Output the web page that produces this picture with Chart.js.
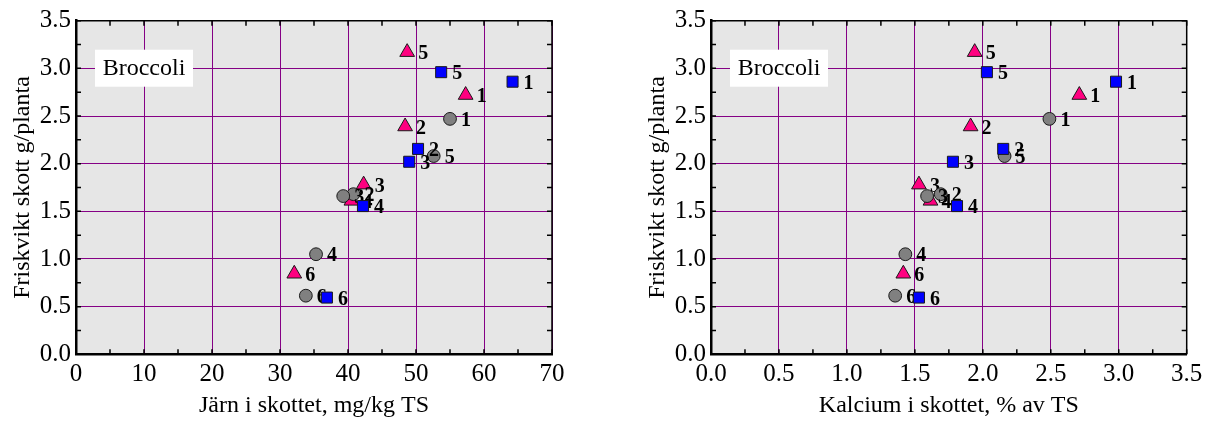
<!DOCTYPE html>
<html><head><meta charset="utf-8">
<script src="https://cdn.jsdelivr.net/npm/chart.js@4.4.1/dist/chart.umd.min.js"></script>
<style>
html,body{margin:0;padding:0;background:#fff;}
#wrap{position:relative;width:1212px;height:421px;overflow:hidden;}
canvas{position:absolute;top:0;}
</style></head><body>
<div id="wrap">
<canvas id="jarn" width="630" height="421" style="left:0"></canvas>
<canvas id="kalcium" width="577" height="421" style="left:635px"></canvas>
</div>
<script>
"use strict";

// behandlingar 1-6, samma ordning i alla listor
const behandling = ["1", "2", "3", "4", "5", "6"];

// friskvikt skott, g/planta
const viktTriangel = [2.72, 2.39, 1.78, 1.61, 3.17, 0.845];
const viktKvadrat  = [2.86, 2.155, 2.02, 1.555, 2.96, 0.595];
const viktCirkel   = [2.47, 1.68, 1.66, 1.05, 2.08, 0.615];

// järn i skottet, mg/kg TS
const jarnTriangel = [57.3, 48.4, 42.3, 40.5, 48.7, 32.1];
const jarnKvadrat  = [64.2, 50.3, 49.0, 42.2, 53.7, 36.9];
const jarnCirkel   = [55.0, 40.8, 39.3, 35.3, 52.6, 33.8];

// kalcium i skottet, % av TS
const kalciumTriangel = [2.71, 1.91, 1.53, 1.615, 1.94, 1.415];
const kalciumKvadrat  = [2.98, 2.15, 1.78, 1.81, 2.03, 1.53];
const kalciumCirkel   = [2.49, 1.69, 1.59, 1.43, 2.16, 1.355];

const SERIF = "'Liberation Serif', 'Times New Roman', serif";
const LILA = "#850085";

function punkter(xs, ys) {
    return xs.map((x, i) => ({x: x, y: ys[i]}));
}

const ramPlugin = {
    id: "ram",
    beforeDraw(chart) {
        const a = chart.chartArea, ctx = chart.ctx;
        ctx.save();
        ctx.fillStyle = "#e6e6e6";
        ctx.fillRect(a.left, a.top, a.right - a.left, a.bottom - a.top);
        ctx.restore();
    },
    beforeDatasetsDraw(chart, args, opts) {
        // textruta "Broccoli"
        const a = chart.chartArea, ctx = chart.ctx;
        ctx.save();
        ctx.fillStyle = "#fff";
        ctx.fillRect(a.left + 19, a.top + 29, 98, 37);
        ctx.fillStyle = "#000";
        ctx.font = "24px " + SERIF;
        ctx.textAlign = "center";
        ctx.textBaseline = "middle";
        ctx.fillText(opts.text, a.left + 68, a.top + 48);
        ctx.restore();
    },
    afterDatasetDraw(chart, args) {
        const ctx = chart.ctx;
        ctx.save();
        ctx.fillStyle = "#000";
        ctx.font = "bold 20px " + SERIF;
        ctx.textAlign = "left";
        ctx.textBaseline = "middle";
        args.meta.data.forEach((pt, i) => {
            ctx.fillText(behandling[i], pt.x + 11, pt.y + 2);
        });
        ctx.restore();
    },
    afterDraw(chart, args, opts) {
        const a = chart.chartArea, ctx = chart.ctx;
        const xs = chart.scales.x, ys = chart.scales.y;
        ctx.save();
        ctx.strokeStyle = "#000";
        ctx.lineWidth = 1.5;
        ctx.beginPath();
        ctx.moveTo(a.left, a.top);
        ctx.lineTo(a.right, a.top);
        ctx.lineTo(a.right, a.bottom);
        ctx.stroke();
        // små skalstreck inåt på alla fyra sidor
        ctx.beginPath();
        for (let v = xs.min; v <= xs.max + 1e-9; v += opts.xMinor) {
            const p = xs.getPixelForValue(v);
            ctx.moveTo(p, a.top); ctx.lineTo(p, a.top + 5);
            ctx.moveTo(p, a.bottom); ctx.lineTo(p, a.bottom - 5);
        }
        for (let v = ys.min; v <= ys.max + 1e-9; v += 0.25) {
            const p = ys.getPixelForValue(v);
            ctx.moveTo(a.left, p); ctx.lineTo(a.left + 5, p);
            ctx.moveTo(a.right, p); ctx.lineTo(a.right - 5, p);
        }
        ctx.stroke();
        ctx.restore();
    }
};

function rita(id, xTri, xKv, xCir, xMax, xStep, decimaler, xTitel, xMinor, hogerKant) {
    const ctx = document.getElementById(id).getContext("2d");
    return new Chart(ctx, {
        type: "scatter",
        data: {
            datasets: [
                {
                    label: "kvadrat",
                    data: punkter(xKv, viktKvadrat),
                    pointStyle: "rect",
                    pointRadius: 7.8,
                    backgroundColor: "#0000ff",
                    borderColor: "#1a1a1a",
                    borderWidth: 1,
                },
                {
                    label: "cirkel",
                    data: punkter(xCir, viktCirkel),
                    pointStyle: "circle",
                    pointRadius: 6.4,
                    backgroundColor: "#808080",
                    borderColor: "#1a1a1a",
                    borderWidth: 1,
                },
                {
                    label: "triangel",
                    data: punkter(xTri, viktTriangel),
                    pointStyle: "triangle",
                    pointRadius: 8.5,
                    backgroundColor: "#ff0080",
                    borderColor: "#1a1a1a",
                    borderWidth: 1,
                },
            ],
        },
        options: {
            responsive: false,
            animation: false,
            devicePixelRatio: 1,
            layout: {padding: {top: 20.7, right: hogerKant, left: 0, bottom: 0}},
            plugins: {
                legend: {display: false},
                tooltip: {enabled: false},
                ram: {text: "Broccoli", xMinor: xMinor},
            },
            scales: {
                x: {
                    type: "linear",
                    min: 0,
                    max: xMax,
                    ticks: {
                        stepSize: xStep,
                        color: "#000",
                        padding: 5,
                        font: {family: SERIF, size: 25},
                        callback: v => v.toFixed(decimaler),
                    },
                    grid: {color: LILA, lineWidth: 1, drawTicks: false},
                    border: {color: "#000", width: 2.5},
                    title: {
                        display: true,
                        text: xTitel,
                        color: "#000",
                        font: {family: SERIF, size: 24},
                        padding: {top: 0, bottom: 1},
                    },
                    afterFit: s => { s.height = 66.7; },
                },
                y: {
                    min: 0,
                    max: 3.5,
                    ticks: {
                        stepSize: 0.5,
                        color: "#000",
                        padding: 5,
                        font: {family: SERIF, size: 25},
                        callback: v => v.toFixed(1),
                    },
                    grid: {color: LILA, lineWidth: 1, drawTicks: false},
                    border: {color: "#000", width: 2.5},
                    title: {
                        display: true,
                        text: "Friskvikt skott g/planta",
                        color: "#000",
                        font: {family: SERIF, size: 24},
                        padding: {top: 8, bottom: 0},
                    },
                    afterFit: s => { s.width = 76; },
                },
            },
        },
        plugins: [ramPlugin],
    });
}

rita("jarn", jarnTriangel, jarnKvadrat, jarnCirkel, 70, 10, 0,
     "Järn i skottet, mg/kg TS", 5, 78);
rita("kalcium", kalciumTriangel, kalciumKvadrat, kalciumCirkel, 3.5, 0.5, 1,
     "Kalcium i skottet, % av TS", 0.25, 25.3);
</script>
</body></html>
